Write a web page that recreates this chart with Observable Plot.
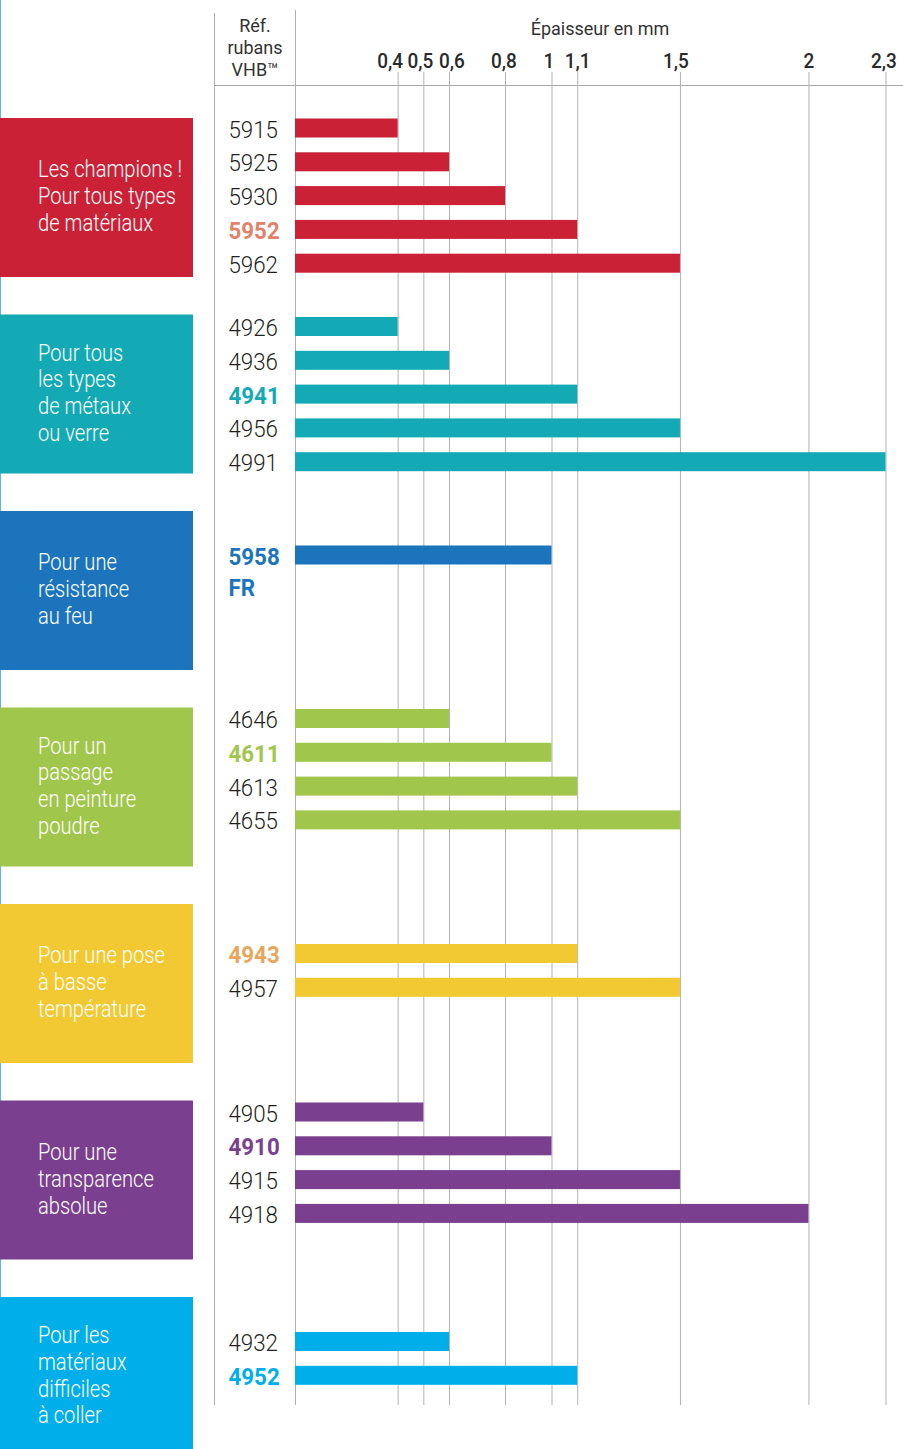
<!DOCTYPE html>
<html lang="fr">
<head>
<meta charset="utf-8">
<script src="https://cdn.jsdelivr.net/npm/d3@7"></script>
<script src="https://cdn.jsdelivr.net/npm/@observablehq/plot@0.6"></script>
<style>
  html, body { margin: 0; padding: 0; background: #fff; }
  #chart { width: 903px; height: 1449px; }
</style>
</head>
<body>
<div id="chart"></div>
<script>
// ---------------- DATA ----------------
const groupNames = [
  "Les champions !\nPour tous types\nde matériaux",
  "Pour tous\nles types\nde métaux\nou verre",
  "Pour une\nrésistance\nau feu",
  "Pour un\npassage\nen peinture\npoudre",
  "Pour une pose\nà basse\ntempérature",
  "Pour une\ntransparence\nabsolue",
  "Pour les\nmatériaux\ndifficiles\nà coller"
];
const groupColors = ["#cb2136", "#13aab5", "#1c75bc", "#a1c64c", "#f2c932", "#7b3f90", "#00aeea"];
const highlightColors = ["#e2826b", "#13aab5", "#1c75bc", "#a1c64c", "#e9a65b", "#7b3f90", "#00aeea"];

const refLabels = ["5915", "5925", "5930", "5952", "5962",
                   "4926", "4936", "4941", "4956", "4991",
                   "5958\nFR",
                   "4646", "4611", "4613", "4655",
                   "4943", "4957",
                   "4905", "4910", "4915", "4918",
                   "4932", "4952"];
const refGroup  = [0, 0, 0, 0, 0,
                   1, 1, 1, 1, 1,
                   2,
                   3, 3, 3, 3,
                   4, 4,
                   5, 5, 5, 5,
                   6, 6];
const thickness = [0.4, 0.6, 0.8, 1.1, 1.5,
                   0.4, 0.6, 1.1, 1.5, 2.3,
                   1.0,
                   0.6, 1.0, 1.1, 1.5,
                   1.1, 1.5,
                   0.5, 1.0, 1.5, 2.0,
                   0.6, 1.1];
const highlighted = ["5952", "4941", "5958\nFR", "4611", "4943", "4910", "4952"];

const tickValues = [0.4, 0.5, 0.6, 0.8, 1, 1.1, 1.5, 2, 2.3];
const tickLabels = ["0,4", "0,5", "0,6", "0,8", "1", "1,1", "1,5", "2", "2,3"];

const headerRef = ["Réf.", "rubans", "VHB™"];
const headerAxis = "Épaisseur en mm";

// ---------------- LAYOUT ----------------
const W = 903, H = 1449;
const boxTop0 = 118, groupStep = 196.5, boxH = 159, boxW = 193;
const rowStep = 33.8, barHalf = 9.5;
const firstRowOffset = [10, 12, 44, 11, 49.5, 11.5, 44.5];
const gridTop = 72, gridBottom = 1405;
const labelDx = -67;
const tickLabelShift = [-8, -3.5, 2.5, -1.5, -3, 0, -4.5, 0, -2];
const FONT = "Roboto, 'Liberation Sans', 'DejaVu Sans', sans-serif";

const boxTop = g => boxTop0 + g * groupStep;
const counters = {};
const rows = refLabels.map((label, i) => {
  const g = refGroup[i];
  const k = counters[g] = (counters[g] ?? -1) + 1;
  const yc = boxTop(g) + firstRowOffset[g] + k * rowStep;
  const hl = highlighted.includes(label);
  return {label, t: thickness[i], g, yc,
          fill: groupColors[g],
          textFill: hl ? highlightColors[g] : "#231f20", hl};
});

// background: category boxes, column separators, headers
function background(index, scales) {
  const y = scales.y;
  const g = d3.create("svg:g");
  // faint left edge line
  g.append("line").attr("x1", 0.5).attr("x2", 0.5).attr("y1", 0).attr("y2", H)
    .attr("stroke", "#6cb2df").attr("stroke-width", 1.2);
  groupNames.forEach((name, i) => {
    const top = y(boxTop(i));
    const bottom = y(boxTop(i) + boxH);
    g.append("rect").attr("x", 0).attr("y", top).attr("width", boxW).attr("height", bottom - top)
      .attr("fill", groupColors[i]);
    const lines = name.split("\n");
    const mid = (top + bottom) / 2 + 6.7;
    lines.forEach((ln, j) => {
      g.append("text")
        .attr("transform", `translate(38,${mid + (j - (lines.length - 1) / 2) * 26.8}) scale(0.84,1)`)
        .attr("text-anchor", "start")
        .attr("fill", "#fff")
        .attr("font-family", FONT)
        .attr("font-weight", 300)
        .attr("font-size", 24)
        .text(ln);
    });
  });
  // separator column line
  g.append("line").attr("x1", 214.5).attr("x2", 214.5).attr("y1", 13).attr("y2", gridBottom)
    .attr("stroke", "#b0b0b0").attr("stroke-width", 1);
  // header horizontal line
  g.append("line").attr("x1", 214).attr("x2", W).attr("y1", 85.5).attr("y2", 85.5)
    .attr("stroke", "#a8a8a8").attr("stroke-width", 1);
  // headers
  [31.5, 53.5, 75.5].forEach((by, j) => {
    g.append("text").attr("x", 255).attr("y", by).attr("text-anchor", "middle")
      .attr("font-family", FONT).attr("font-size", 18).attr("fill", "#333")
      .text(headerRef[j]);
  });
  g.append("text").attr("x", 600).attr("y", 34.5).attr("text-anchor", "middle")
    .attr("font-family", FONT).attr("font-size", 18).attr("fill", "#333")
    .text(headerAxis);
  return g.node();
}

const chart = Plot.plot({
  width: W,
  height: H,
  marginTop: 0, marginRight: 0, marginBottom: 0, marginLeft: 0,
  style: {background: "#fff", overflow: "visible"},
  x: {type: "linear", domain: [0, 0.6, 0.8, 1, 2.3], range: [295, 449, 505, 551.5, 885.5], axis: null},
  y: {type: "linear", domain: [0, H], range: [0, H], axis: null},
  color: {type: "identity"},
  marks: [
    background,
    Plot.ruleX(tickValues, {x: d => d, y1: gridTop, y2: gridBottom, stroke: "#b3b3b3", strokeWidth: 1}),
    Plot.ruleX([0], {x: d => d, y1: 10, y2: gridBottom, stroke: "#b0b0b0", strokeWidth: 1}),
    Plot.text(tickValues, {
      x: d => d, y: () => 67, text: (d, i) => tickLabels[i],
      lineAnchor: "bottom", textAnchor: "middle",
      fontFamily: FONT, fontSize: 20, fontWeight: 500, fill: "#2a2a2a"
    }),
    Plot.rect(rows, {
      x1: () => 0, x2: "t",
      y1: d => d.yc - barHalf, y2: d => d.yc + barHalf,
      fill: "fill"
    }),
    Plot.text(rows.filter(d => !d.hl), {
      x: () => 0, dx: labelDx, y: "yc", dy: -13.3, text: "label",
      textAnchor: "start", lineAnchor: "top", lineHeight: 1.31,
      fontFamily: FONT, fontSize: 24, fontWeight: 300, fill: "textFill"
    }),
    Plot.text(rows.filter(d => d.hl), {
      x: () => 0, dx: labelDx, y: "yc", dy: -13.3, text: "label",
      textAnchor: "start", lineAnchor: "top", lineHeight: 1.31,
      fontFamily: FONT, fontSize: 24, fontWeight: 700, fill: "textFill"
    })
  ]
});

// condensed look for the labels; small horizontal nudges of the tick labels
const textGroups = chart.querySelectorAll('g[aria-label="text"]');
textGroups.forEach((grp, i) => {
  const sx = i === 0 ? 0.95 : 0.93;
  grp.querySelectorAll("text").forEach((t, j) => {
    const tr = t.getAttribute("transform") || "";
    const shift = i === 0 ? `translate(${tickLabelShift[j] ?? 0},0) ` : "";
    t.setAttribute("transform", shift + tr + ` scale(${sx},1)`);
  });
});

document.getElementById("chart").appendChild(chart);
</script>
</body>
</html>
